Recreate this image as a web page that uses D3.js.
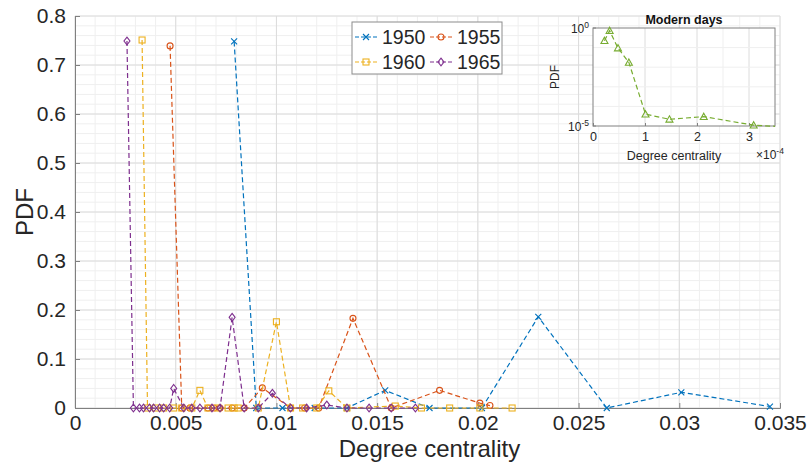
<!DOCTYPE html>
<html>
<head>
<meta charset="utf-8">
<script src="https://cdn.jsdelivr.net/npm/d3@7"></script>
<style>
  body { margin: 0; background: #fff; }
  text { font-family: "Liberation Sans", Arial, sans-serif; fill: #262626; }
</style>
</head>
<body>
<svg id="chart" width="809" height="472"></svg>
<script>
// series
var years = ["1950", "1955", "1960", "1965"];
var colors = ["#0072BD", "#D95319", "#EDB120", "#7E2F8E"];
var markers = ["x", "o", "s", "d"];

var x1950 = [0.0079, 0.0090, 0.0103, 0.0119, 0.0135, 0.0154, 0.0176, 0.0202, 0.0230, 0.0264, 0.0301, 0.0345];
var y1950 = [0.748, 0, 0, 0, 0, 0.036, 0, 0, 0.186, 0, 0.032, 0.003];

var x1955 = [0.00472, 0.0053, 0.0057, 0.0066, 0.0069, 0.0072, 0.0078, 0.0084, 0.0093, 0.0107, 0.0114, 0.0121, 0.0138, 0.0157, 0.0181, 0.0201, 0.0206];
var y1955 = [0.739, 0, 0, 0, 0, 0, 0, 0, 0.041, 0, 0, 0, 0.183, 0, 0.036, 0.010, 0.005];

var x1960 = [0.00333, 0.0036, 0.0040, 0.0044, 0.0049, 0.0053, 0.0058, 0.0062, 0.0066, 0.0071, 0.0076, 0.0079, 0.0081, 0.0091, 0.0100, 0.0107, 0.0113, 0.0120, 0.0126, 0.0135, 0.0159, 0.0172, 0.0186, 0.0201, 0.0217];
var y1960 = [0.751, 0, 0, 0, 0, 0, 0, 0.036, 0, 0, 0, 0, 0, 0, 0.176, 0, 0, 0, 0.035, 0, 0.004, 0, 0, 0, 0];

var x1965 = [0.00258, 0.0029, 0.0032, 0.0034, 0.0037, 0.0039, 0.0042, 0.0044, 0.0047, 0.0049, 0.0054, 0.0058, 0.0062, 0.0068, 0.0072, 0.0078, 0.0084, 0.0091, 0.0098, 0.0107, 0.0115, 0.0125, 0.0135, 0.0146, 0.0157, 0.0169];
var y1965 = [0.749, 0, 0, 0, 0, 0, 0, 0, 0, 0.040, 0, 0, 0, 0, 0, 0.185, 0, 0, 0.030, 0, 0, 0.006, 0, 0, 0, 0];

var xTicks = [0, 0.005, 0.01, 0.015, 0.02, 0.025, 0.03, 0.035];
var xTickLabels = ["0", "0.005", "0.01", "0.015", "0.02", "0.025", "0.03", "0.035"];
var yTicks = [0, 0.1, 0.2, 0.3, 0.4, 0.5, 0.6, 0.7, 0.8];
var yTickLabels = ["0", "0.1", "0.2", "0.3", "0.4", "0.5", "0.6", "0.7", "0.8"];

// inset: modern days (x in units of 1e-4)
var xModern = [0.22, 0.32, 0.48, 0.69, 1.01, 1.47, 2.13, 3.09, 3.55];
var yModern = [0.225, 0.73, 0.095, 0.0175, 4e-5, 2.2e-5, 3e-5, 1.1e-5, 0.95e-5];
var insetXTicks = [0, 1, 2, 3];
var insetYTicks = [1, 1e-5];
var insetYTickExp = ["0", "-5"];

var xData = [x1950, x1955, x1960, x1965];
var yData = [y1950, y1955, y1960, y1965];

var svg = d3.select("#chart");
var L = 75, R = 780, T = 16, B = 408;

var x = d3.scaleLinear().domain([0, 0.035]).range([L, R]);
var y = d3.scaleLinear().domain([0, 0.8]).range([B, T]);

// grid
var grid = svg.append("g");
grid.selectAll(".mx").data(d3.range(0, 0.0351, 0.001)).enter().append("line")
    .attr("x1", d => x(d)).attr("x2", d => x(d)).attr("y1", T).attr("y2", B)
    .attr("stroke", "#efefef").attr("stroke-width", 1);
grid.selectAll(".my").data(d3.range(0, 0.801, 0.02)).enter().append("line")
    .attr("y1", d => y(d)).attr("y2", d => y(d)).attr("x1", L).attr("x2", R)
    .attr("stroke", "#efefef").attr("stroke-width", 1);
grid.selectAll(".gx").data(xTicks).enter().append("line")
    .attr("x1", d => x(d)).attr("x2", d => x(d)).attr("y1", T).attr("y2", B)
    .attr("stroke", "#dcdcdc").attr("stroke-width", 1);
grid.selectAll(".gy").data(yTicks).enter().append("line")
    .attr("y1", d => y(d)).attr("y2", d => y(d)).attr("x1", L).attr("x2", R)
    .attr("stroke", "#dcdcdc").attr("stroke-width", 1);

// axes (MATLAB style, ticks inward)
var xAxis = d3.axisBottom(x).tickValues(xTicks).tickSize(-5).tickPadding(7)
    .tickFormat((d, i) => xTickLabels[i]);
var yAxis = d3.axisLeft(y).tickValues(yTicks).tickSize(-5).tickPadding(9)
    .tickFormat((d, i) => yTickLabels[i]);

var gx = svg.append("g").attr("transform", "translate(0," + B + ")").call(xAxis);
var gy = svg.append("g").attr("transform", "translate(" + L + ",0)").call(yAxis);
[gx, gy].forEach(function(g) {
    g.select(".domain").attr("stroke", "#808080");
    g.selectAll(".tick line").attr("stroke", "#808080");
    g.selectAll(".tick text").style("font-size", "21px").style("fill", "#262626")
        .style("font-family", "'Liberation Sans', Arial, sans-serif");
});

svg.append("text").attr("x", (L + R) / 2 + 2).attr("y", 457).attr("text-anchor", "middle")
    .style("font-size", "24px").text("Degree centrality");
svg.append("text").attr("transform", "translate(33," + ((T + B) / 2) + ") rotate(-90)")
    .attr("text-anchor", "middle").style("font-size", "24px").text("PDF");

// marker drawing
function drawMarker(g, type, cx, cy, color, s) {
    if (type === "x") {
        g.append("path").attr("d", "M" + (cx - s) + "," + (cy - s) + "L" + (cx + s) + "," + (cy + s) +
            "M" + (cx - s) + "," + (cy + s) + "L" + (cx + s) + "," + (cy - s))
            .attr("stroke", color).attr("stroke-width", 1.1).attr("fill", "none");
    } else if (type === "o") {
        g.append("circle").attr("cx", cx).attr("cy", cy).attr("r", s)
            .attr("stroke", color).attr("stroke-width", 1.1).attr("fill", "none");
    } else if (type === "s") {
        g.append("rect").attr("x", cx - s).attr("y", cy - s).attr("width", 2 * s).attr("height", 2 * s)
            .attr("stroke", color).attr("stroke-width", 1.1).attr("fill", "none");
    } else if (type === "d") {
        g.append("path").attr("d", "M" + cx + "," + (cy - s * 1.3) + "L" + (cx + s) + "," + cy +
            "L" + cx + "," + (cy + s * 1.3) + "L" + (cx - s) + "," + cy + "Z")
            .attr("stroke", color).attr("stroke-width", 1.1).attr("fill", "none");
    } else if (type === "^") {
        g.append("path").attr("d", "M" + cx + "," + (cy - s) + "L" + (cx + s) + "," + (cy + s * 0.8) +
            "L" + (cx - s) + "," + (cy + s * 0.8) + "Z")
            .attr("stroke", color).attr("stroke-width", 1.1).attr("fill", "none");
    }
}

var line = d3.line().x(d => x(d[0])).y(d => y(d[1]));
var plot = svg.append("g");
years.forEach(function(yr, k) {
    var pts = xData[k].map((v, i) => [v, yData[k][i]]);
    plot.append("path").datum(pts).attr("d", line)
        .attr("fill", "none").attr("stroke", colors[k]).attr("stroke-width", 1.2)
        .attr("stroke-dasharray", "5,3");
    pts.forEach(function(p) {
        drawMarker(plot, markers[k], x(p[0]), y(p[1]), colors[k], 3);
    });
});

// legend
var leg = svg.append("g");
leg.append("rect").attr("x", 352).attr("y", 22).attr("width", 150).attr("height", 52)
    .attr("fill", "#fff").attr("stroke", "#8c8c8c").attr("stroke-width", 1);
years.forEach(function(yr, k) {
    var lx = 355 + (k % 2) * 75, ly = 37 + Math.floor(k / 2) * 25;
    leg.append("line").attr("x1", lx).attr("x2", lx + 22).attr("y1", ly).attr("y2", ly)
        .attr("stroke", colors[k]).attr("stroke-width", 1.2).attr("stroke-dasharray", "4,2");
    drawMarker(leg, markers[k], lx + 11, ly, colors[k], 3);
    leg.append("text").attr("x", lx + 27).attr("y", ly + 7).style("font-size", "19.5px").text(yr);
});

// inset
var iL = 593, iR = 775, iT = 28, iB = 126;
var ix = d3.scaleLinear().domain([0, 3.5]).range([iL, iR]);
var iy = d3.scaleLog().domain([1e-5, 1]).range([iB, iT]);
var inset = svg.append("g");
inset.append("rect").attr("x", iL).attr("y", iT).attr("width", iR - iL).attr("height", iB - iT)
    .attr("fill", "#fff");
inset.selectAll(".imx").data(d3.range(0.5, 3.5, 0.5)).enter().append("line")
    .attr("x1", d => ix(d)).attr("x2", d => ix(d)).attr("y1", iT).attr("y2", iB)
    .attr("stroke", d => (d % 1 === 0) ? "#dcdcdc" : "#efefef");
inset.selectAll(".imy").data([1e-4, 1e-3, 1e-2, 1e-1]).enter().append("line")
    .attr("y1", d => iy(d)).attr("y2", d => iy(d)).attr("x1", iL).attr("x2", iR)
    .attr("stroke", "#efefef");
inset.append("rect").attr("x", iL).attr("y", iT).attr("width", iR - iL).attr("height", iB - iT)
    .attr("fill", "none").attr("stroke", "#808080");

var ixAxis = d3.axisBottom(ix).tickValues(insetXTicks).tickSize(-3).tickPadding(6).tickFormat(d3.format("d"));
var igx = inset.append("g").attr("transform", "translate(0," + iB + ")").call(ixAxis);
igx.select(".domain").remove();
igx.selectAll(".tick line").attr("stroke", "#808080");
igx.selectAll(".tick text").style("font-size", "12.5px").style("fill", "#262626")
    .style("font-family", "'Liberation Sans', Arial, sans-serif");

insetYTicks.forEach(function(v, i) {
    inset.append("line").attr("x1", iL).attr("x2", iL + 3).attr("y1", iy(v)).attr("y2", iy(v))
        .attr("stroke", "#808080");
    var t = inset.append("text").attr("x", iL - 4).attr("y", iy(v) + 5).attr("text-anchor", "end")
        .style("font-size", "12px");
    t.append("tspan").text("10");
    t.append("tspan").attr("dy", -5).style("font-size", "8.5px").text(insetYTickExp[i]);
});

var iline = d3.line().x(d => ix(d[0])).y(d => iy(d[1]));
var mpts = xModern.map((v, i) => [v, yModern[i]]);
inset.append("clipPath").attr("id", "iclip").append("rect")
    .attr("x", iL - 6).attr("y", iT - 6).attr("width", iR - iL + 6).attr("height", iB - iT + 12);
var ip = inset.append("g").attr("clip-path", "url(#iclip)");
ip.append("path").datum(mpts).attr("d", iline).attr("fill", "none")
    .attr("stroke", "#77AC30").attr("stroke-width", 1.2).attr("stroke-dasharray", "5,3");
mpts.forEach(function(p) {
    if (p[0] <= 3.5) drawMarker(ip, "^", ix(p[0]), iy(p[1]), "#77AC30", 3.5);
});

inset.append("text").attr("x", (iL + iR) / 2).attr("y", 24).attr("text-anchor", "middle")
    .style("font-size", "12.5px").style("font-weight", "bold").style("fill", "#111").text("Modern days");
inset.append("text").attr("x", (iL + iR) / 2 - 10).attr("y", 160).attr("text-anchor", "middle")
    .style("font-size", "12.5px").text("Degree centrality");
var ex = inset.append("text").attr("x", 756).attr("y", 159).style("font-size", "12px");
ex.append("tspan").text("\u00d710");
ex.append("tspan").attr("dy", -5).style("font-size", "8.5px").text("-4");
inset.append("text").attr("transform", "translate(559," + ((iT + iB) / 2) + ") rotate(-90)")
    .attr("text-anchor", "middle").style("font-size", "12px").text("PDF");
</script>
</body>
</html>
